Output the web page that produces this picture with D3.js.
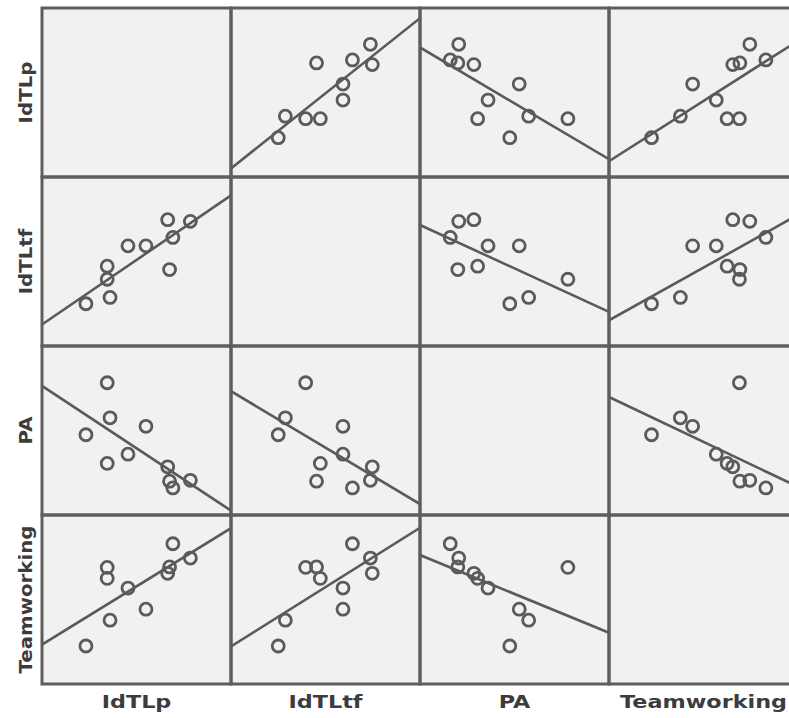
<!DOCTYPE html>
<html>
<head>
<meta charset="utf-8">
<script src="https://cdn.jsdelivr.net/npm/d3@7"></script>
<style>
  body { margin: 0; background: #ffffff; }
  text { font-family: "DejaVu Sans", Verdana, sans-serif; font-weight: bold; fill: #3c3c3c; }
</style>
</head>
<body>
<svg id="chart" width="789" height="718"></svg>
<script>
// Variables of the scatterplot matrix (row / column order)
const variables = ["IdTLp", "IdTLtf", "PA", "Teamworking"];

// One value per respondent for each variable
const idTLp       = [1.93, 2.44, 2.38, 2.38, 2.82, 3.20, 3.66, 3.77, 3.70, 4.14];
const idTLtf      = [2.00, 2.15, 2.58, 2.89, 3.37, 3.37, 3.99, 3.57, 2.81, 3.95];
const pa          = [2.90, 3.30, 4.13, 2.22, 2.44, 3.10, 2.14, 1.64, 1.80, 1.82];
const teamworking = [1.90, 2.51, 3.76, 3.50, 3.27, 2.77, 3.62, 4.32, 3.77, 3.98];

// Common scale range of the measures
const scaleDomain = [1, 5];

const series = {
  "IdTLp": idTLp,
  "IdTLtf": idTLtf,
  "PA": pa,
  "Teamworking": teamworking
};

const svg = d3.select("#chart");

const colBand = d3.scaleBand().domain(variables).range([42, 798]).paddingInner(0);
const rowBand = d3.scaleBand().domain(variables).range([8, 684]).paddingInner(0);

const panelFill = "#f1f1f1";
const borderColor = "#5e5e5e";
const markColor = "#5a5a5a";

// Ordinary least squares fit of y on x
function ols(xs, ys) {
  const mx = d3.mean(xs), my = d3.mean(ys);
  let sxy = 0, sxx = 0;
  xs.forEach((x, i) => { sxy += (x - mx) * (ys[i] - my); sxx += (x - mx) * (x - mx); });
  const slope = sxy / sxx;
  return { slope, intercept: my - slope * mx };
}

const defs = svg.append("defs");
const panels = svg.append("g");
const borders = svg.append("g");

variables.forEach((rowVar, ri) => {
  variables.forEach((colVar, ci) => {
    const x0 = colBand(colVar), w = colBand.bandwidth();
    const y0 = rowBand(rowVar), h = rowBand.bandwidth();
    const clipId = `clip-${ri}-${ci}`;
    defs.append("clipPath").attr("id", clipId)
      .append("rect").attr("x", x0).attr("y", y0).attr("width", w).attr("height", h);

    const g = panels.append("g");
    g.append("rect")
      .attr("x", x0).attr("y", y0).attr("width", w).attr("height", h)
      .attr("fill", panelFill);

    if (rowVar !== colVar) {
      const xs = series[colVar], ys = series[rowVar];
      const x = d3.scaleLinear().domain(scaleDomain).range([x0, x0 + w]);
      const y = d3.scaleLinear().domain(scaleDomain).range([y0 + h, y0]);
      const fit = ols(xs, ys);
      const inner = g.append("g").attr("clip-path", `url(#${clipId})`);

      const lineGen = d3.line().x(d => x(d[0])).y(d => y(d[1]));
      inner.append("path")
        .datum(scaleDomain.map(v => [v, fit.intercept + fit.slope * v]))
        .attr("d", lineGen)
        .attr("fill", "none")
        .attr("stroke", markColor)
        .attr("stroke-width", 2.6);

      inner.selectAll("circle")
        .data(xs.map((v, i) => [v, ys[i]]))
        .join("circle")
        .attr("cx", d => x(d[0]))
        .attr("cy", d => y(d[1]))
        .attr("r", 6)
        .attr("fill", "none")
        .attr("stroke", markColor)
        .attr("stroke-width", 2.8);
    }

    borders.append("rect")
      .attr("x", x0).attr("y", y0).attr("width", w).attr("height", h)
      .attr("fill", "none")
      .attr("stroke", borderColor)
      .attr("stroke-width", 3);
  });
});

// Column titles along the bottom
svg.append("g").selectAll("text")
  .data(variables)
  .join("text")
  .attr("transform", d => `translate(${colBand(d) + colBand.bandwidth() / 2},708) scale(1.24,1)`)
  .attr("text-anchor", "middle")
  .attr("font-size", 18)
  .text(d => d);

// Row titles down the left side
svg.append("g").selectAll("text")
  .data(variables)
  .join("text")
  .attr("transform", d => `translate(32,${rowBand(d) + rowBand.bandwidth() / 2}) rotate(-90) scale(1.1,1)`)
  .attr("text-anchor", "middle")
  .attr("font-size", 18)
  .text(d => d);
</script>
</body>
</html>
